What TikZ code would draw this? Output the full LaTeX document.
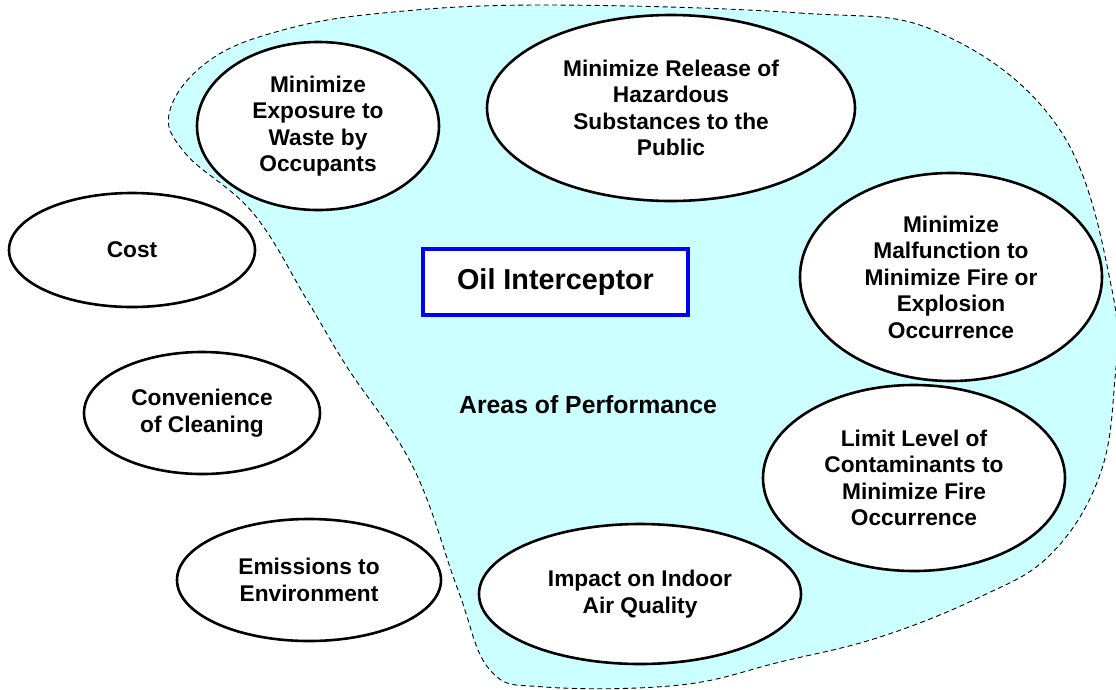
\documentclass[tikz,border=0pt]{standalone}
\usepackage{fontspec}
\setmainfont{Liberation Sans}
\usetikzlibrary{shapes.geometric}
\definecolor{areacolor}{rgb}{0.8,1.0,1.0}
\definecolor{boxblue}{rgb}{0.0,0.0,0.95}
\begin{document}
\begin{tikzpicture}[x=1pt,y=-1pt,
  goal/.style={ellipse,draw,line width=2.6pt,fill=white,inner sep=0pt,align=center,
    font=\fontsize{22.7}{26.5}\selectfont\bfseries},
  area/.style={draw,dashed,line width=0.9pt,dash pattern=on 5pt off 3.5pt,fill=areacolor}]
  \useasboundingbox (0,0) rectangle (1116,689);
  \draw[area] plot[smooth cycle,tension=0.65] coordinates {
    (543,5) (800,13) (940,33) (1060,130) (1112,290) (1114,390) (1098,480)
    (1050,555) (980,597) (880,637) (780,662) (680,685) (545,687) (490,670)
    (458,590) (413,467) (347,367) (307,300) (253,213) (185,153) (170,110)
    (210,60) (283,30) (383,13)};
  \node[goal,minimum width=246pt,minimum height=114pt] (cost) at (132,250) {Cost};
  \node[goal,minimum width=236pt,minimum height=122pt] (clean) at (202,413) {Convenience\\of Cleaning};
  \node[goal,minimum width=264pt,minimum height=122pt] (emis) at (309,580) {Emissions to\\Environment};
  \node[goal,minimum width=242pt,minimum height=168pt] (expo) at (318,126) {Minimize\\Exposure to\\Waste by\\Occupants};
  \node[goal,minimum width=368pt,minimum height=186pt] (release) at (671,108) {Minimize Release of\\Hazardous\\Substances to the\\Public};
  \node[goal,minimum width=302pt,minimum height=208pt] (malf) at (951,277) {Minimize\\Malfunction to\\Minimize Fire or\\Explosion\\Occurrence};
  \node[goal,minimum width=302pt,minimum height=186pt] (limit) at (914,478) {Limit Level of\\Contaminants to\\Minimize Fire\\Occurrence};
  \node[goal,minimum width=322pt,minimum height=140pt] (iaq) at (640,594) {Impact on Indoor\\Air Quality};
  \node[draw=boxblue,line width=3.5pt,fill=white,minimum width=265pt,minimum height=66pt,
    font=\fontsize{28.8}{34}\selectfont\bfseries] (oil) at (555.5,282) {Oil Interceptor};
  \node[font=\fontsize{24.8}{30}\selectfont\bfseries] (areas) at (588,405) {Areas of Performance};
\end{tikzpicture}
\end{document}
